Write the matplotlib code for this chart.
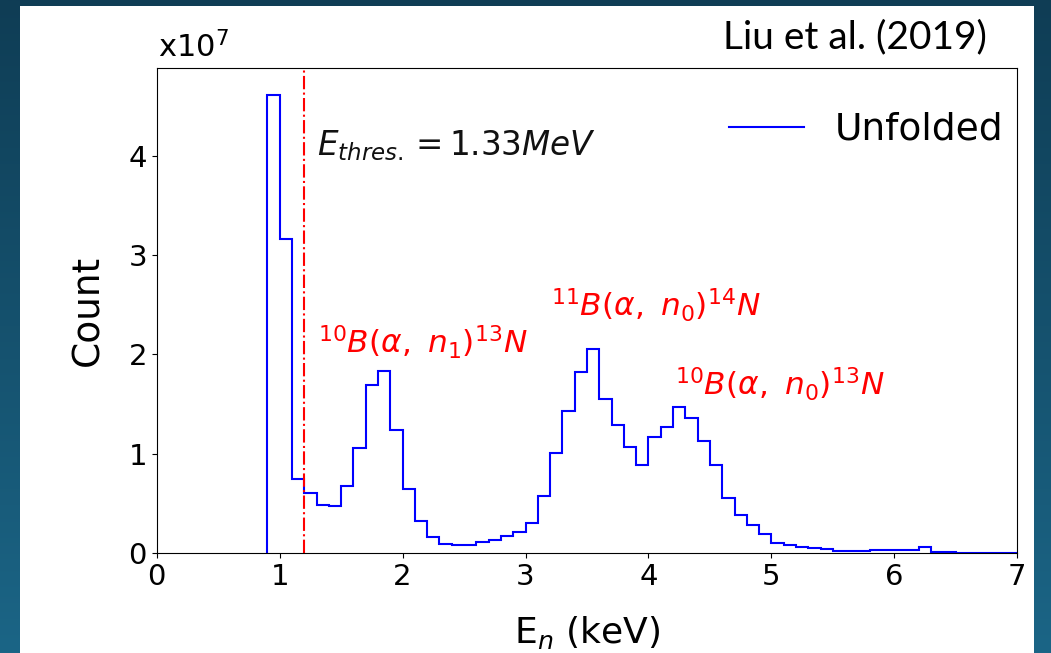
"""Unfolded neutron spectrum (Liu et al. 2019) on a slide-style background."""
import numpy as np
import matplotlib
matplotlib.use("Agg")
import matplotlib.pyplot as plt

# ---------- Data (counts in units of 1e7) ----------
BIN_START = 0.9
BIN_WIDTH = 0.1
counts = [
    4.61, 3.16, 0.745, 0.60, 0.48, 0.47, 0.675, 1.06, 1.69, 1.83,   # 0.9 - 1.8
    1.24, 0.64, 0.32, 0.165, 0.09, 0.08, 0.08, 0.107, 0.134, 0.167,  # 1.9 - 2.8
    0.207, 0.30, 0.57, 1.01, 1.43, 1.82, 2.05, 1.55, 1.29, 1.07,     # 2.9 - 3.8
    0.89, 1.165, 1.27, 1.47, 1.36, 1.13, 0.885, 0.55, 0.385, 0.282,  # 3.9 - 4.8
    0.195, 0.105, 0.085, 0.06, 0.055, 0.037, 0.02, 0.02, 0.017, 0.027,  # 4.9 - 5.8
    0.027, 0.033, 0.027, 0.06, 0.013, 0.013, 0.003, 0.001, 0.001, 0.001,  # 5.9 - 6.8
    0.001,                                                            # 6.9
]
edges = BIN_START + BIN_WIDTH * np.arange(len(counts) + 1)

threshold_x = 1.2
x_ticks = [0, 1, 2, 3, 4, 5, 6, 7]
y_ticks = [0, 1, 2, 3, 4]

# label text, x, y (data coords, left/baseline)
reactions = [
    (r"$^{10}B(\alpha,\ n_1)^{13}N$", 1.315, 2.01),
    (r"$^{11}B(\alpha,\ n_0)^{14}N$", 3.21, 2.38),
    (r"$^{10}B(\alpha,\ n_0)^{13}N$", 4.215, 1.59),
]

# ---------- Figure ----------
W, H = 1051, 653
DPI = 100
fig = plt.figure(figsize=(W / DPI, H / DPI), dpi=DPI)

# slide background: dark teal gradient + white panel
bg = fig.add_axes([0, 0, 1, 1])
grad = np.linspace(0, 1, 256).reshape(-1, 1)
cmap = matplotlib.colors.LinearSegmentedColormap.from_list("bg", ["#0f3d55", "#1b6586"])
bg.imshow(grad, aspect="auto", cmap=cmap, extent=[0, 1, 0, 1], origin="upper")
bg.add_patch(plt.Rectangle((20 / W, 0), (1034 - 20) / W, 1 - 6 / H,
                           facecolor="white", edgecolor="none"))
bg.set_xlim(0, 1)
bg.set_ylim(0, 1)
bg.axis("off")

ax = fig.add_axes([156.7 / W, 1 - 553 / H, (1017.3 - 156.7) / W, (553 - 68) / H])
ax.set_facecolor("white")

ax.stairs(counts, edges, baseline=0, color="blue", lw=1.5, label="Unfolded")
ax.axvline(threshold_x, color="red", ls="-.", lw=1.5)

ax.set_xlim(0, 7)
ax.set_ylim(0, 4.885)
ax.set_xticks(x_ticks)
ax.set_yticks(y_ticks)
ax.tick_params(labelsize=21)
ax.set_xlabel(r"E$_n$ (keV)", fontsize=26, labelpad=17)
ax.set_ylabel("Count", fontsize=27, labelpad=16)

ax.text(1.30, 4.01, r"$E_{thres.} = 1.33 MeV$", fontsize=23.5, color="#111111",
        ha="left", va="baseline")
for txt, x, y in reactions:
    ax.text(x, y, txt, fontsize=22.5, color="red", ha="left", va="baseline")

ax.legend(frameon=False, fontsize=27, loc="center right", borderpad=0, borderaxespad=0,
          bbox_to_anchor=(1003 / W, 1 - 130 / H), bbox_transform=fig.transFigure)

fig.text(158 / W, 1 - 57 / H, r"x10$^7$", fontsize=22, ha="left", va="baseline")
fig.text(987 / W, 1 - 48 / H, "Liu et al. (2019)", fontsize=28, family="Lato",
         ha="right", va="baseline")

fig.savefig("out.png", dpi=DPI)
